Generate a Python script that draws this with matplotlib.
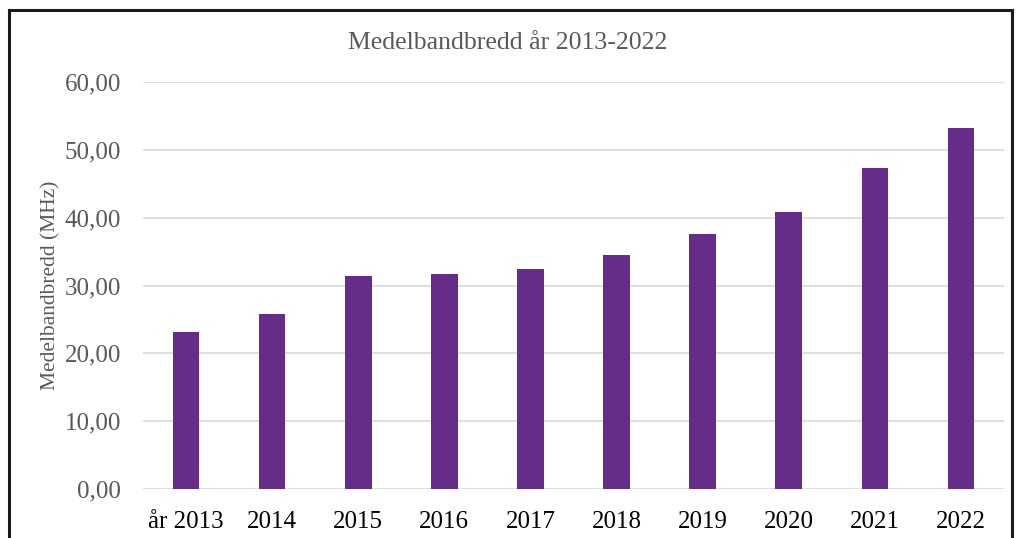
import matplotlib
matplotlib.use('Agg')
import matplotlib.pyplot as plt
from matplotlib.lines import Line2D

# data
years = ['år 2013', '2014', '2015', '2016', '2017', '2018', '2019', '2020', '2021', '2022']
bandwidth = [23.15, 25.8, 31.45, 31.7, 32.4, 34.5, 37.6, 40.8, 47.35, 53.27]
yticks = [0, 10, 20, 30, 40, 50, 60]

plt.rcParams['font.family'] = ['Liberation Serif', 'DejaVu Serif']

fig = plt.figure(figsize=(10.16, 5.38), dpi=100)
ax = fig.add_axes([143 / 1016, 1 - 489 / 538, 861 / 1016, 407 / 538])

x = range(len(years))
ax.bar(x, bandwidth, width=0.31, color='#652c8a', zorder=3)

ax.set_xlim(-0.5, len(years) - 0.5)
ax.set_ylim(0, 60)
ax.set_yticks(yticks)
ax.set_yticklabels(['%d,00' % v for v in yticks], color='#595959', fontsize=18)
ax.set_xticks(list(x))
ax.set_xticklabels(years, color='#000000', fontsize=18)
ax.tick_params(axis='x', length=0, pad=16)
ax.tick_params(axis='y', length=0, pad=16)
ax.grid(axis='y', color='#d9d9d9', linewidth=1.2, zorder=0)
for s in ax.spines.values():
    s.set_visible(False)

ax.set_ylabel('Medelbandbredd (MHz)', color='#595959', fontsize=15.5, labelpad=3)
fig.text(0.5, 1 - 43 / 538, 'Medelbandbredd år 2013-2022', ha='center', va='center',
         color='#595959', fontsize=18.5)

# outer frame (bottom edge falls outside the picture)
lw = 2.2
fig.add_artist(Line2D([9 / 1016, 9 / 1016], [0, 1 - 10 / 538], color='#1a1a1a', lw=lw))
fig.add_artist(Line2D([9 / 1016, 1012 / 1016], [1 - 10 / 538, 1 - 10 / 538], color='#1a1a1a', lw=lw))
fig.add_artist(Line2D([1012 / 1016, 1012 / 1016], [0, 1 - 10 / 538], color='#1a1a1a', lw=lw))

fig.savefig('out.png', dpi=100)
